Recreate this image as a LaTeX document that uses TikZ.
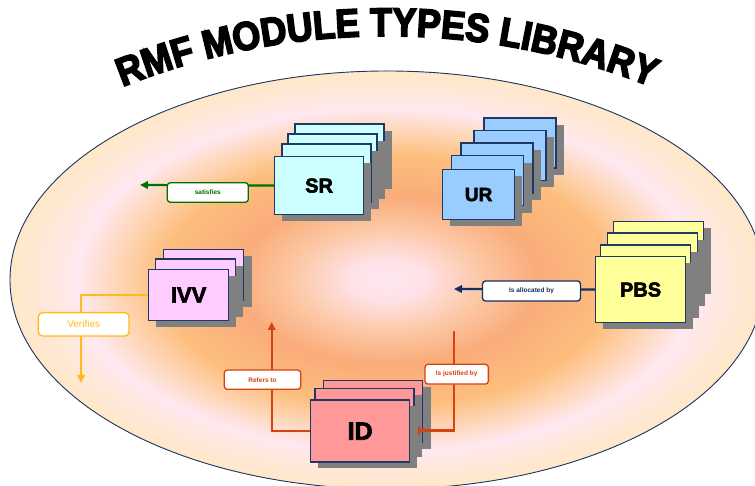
\documentclass[tikz,border=0pt]{standalone}
\usepackage{fontspec}
\usetikzlibrary{arrows.meta,decorations.text,calc}
\setmainfont{Liberation Sans}
\newfontfamily\heavy{Liberation Sans Bold}[FakeBold=3]
\newfontfamily\titlefont{Liberation Sans Bold}[FakeBold=4, FakeStretch=0.9]
\newfontfamily\labfont{Liberation Sans Bold}
\newfontfamily\regfont{Liberation Sans}

\definecolor{boxline}{RGB}{31,56,100}
\definecolor{shadowgray}{RGB}{128,128,128}
\definecolor{srfill}{RGB}{204,255,255}
\definecolor{urfill}{RGB}{153,204,255}
\definecolor{ivvfill}{RGB}{255,204,255}
\definecolor{pbsfill}{RGB}{255,255,153}
\definecolor{idfill}{RGB}{255,153,153}
\definecolor{cgreen}{RGB}{0,112,0}
\definecolor{cgold}{RGB}{255,186,30}
\definecolor{cnavy}{RGB}{18,48,96}
\definecolor{cred}{RGB}{214,66,16}
\definecolor{g0}{RGB}{255,232,242}
\definecolor{g1}{RGB}{255,225,230}
\definecolor{g2}{RGB}{252,200,165}
\definecolor{g3}{RGB}{250,172,122}
\definecolor{g4}{RGB}{253,190,125}
\definecolor{g5}{RGB}{254,215,185}
\definecolor{g6}{RGB}{255,232,240}
\definecolor{g7}{RGB}{255,232,215}
\definecolor{g8}{RGB}{255,232,200}

\pgfdeclareradialshading{bgshade}{\pgfpoint{0bp}{0bp}}{color(0bp)=(g0); color(2.5bp)=(g1); color(6.25bp)=(g2); color(10bp)=(g3); color(15bp)=(g4); color(18bp)=(g5); color(20.5bp)=(g6); color(23bp)=(g7); color(25bp)=(g8); color(50bp)=(g8)}

\tikzset{
  modbox/.style={draw=boxline, line width=1.2pt, inner sep=0pt, anchor=north west, font=\heavy},
  backbox/.style={draw=boxline, line width=1.2pt},
  conlabel/.style={draw, fill=white, rounded corners=3pt, line width=1.3pt, inner sep=0pt, font=\labfont\fontsize{6.5}{7}\selectfont},
  conline/.style={line width=2.2pt},
  arrowtipped/.style={-{Triangle[length=8pt,width=7.5pt]}},
}

% #1 name, #2 x, #3 y (top-left, image coords), #4 w, #5 h, #6 fill, #7 back offsets, #8 label
\newcommand\mstack[8]{%
  \foreach \dx/\dy in {#7} {
    \fill[shadowgray] (#2+\dx+8, #3+\dy+7) rectangle ++(#4,#5);
    \filldraw[backbox, fill=#6] (#2+\dx, #3+\dy) rectangle ++(#4,#5);
  }
  \fill[shadowgray] (#2+8, #3+7) rectangle ++(#4,#5);
  \node[modbox, fill=#6, minimum width=#4pt, minimum height=#5pt] (#1) at (#2,#3) {#8};
}

\begin{document}
\begin{tikzpicture}[x=1pt,y=1pt]
\useasboundingbox (0,0) rectangle (755,486);
\clip (0,0) rectangle (755,486);

% arched title
\path[decorate, decoration={text along path, text align=center,
  text={|\titlefont\fontsize{40}{40}\selectfont|RMF MODULE TYPES LIBRARY}}]
  (387,-262) ++(125:712pt) arc[start angle=125, end angle=55, radius=712pt];

\begin{scope}[yshift=486pt, yscale=-1]
  % background ellipse
  \fill[shading=bgshade] (387,280) ellipse [x radius=377pt, y radius=209pt];
  \draw[boxline, line width=0.9pt] (387,280) ellipse [x radius=377pt, y radius=209pt];

  % module stacks
  \mstack{SR}{274}{156}{89}{58}{srfill}{21/-32,14/-22,8/-12}{\fontsize{20}{20}\selectfont SR}
  \mstack{UR}{442}{169}{72}{50}{urfill}{42/-51,32/-38.6,19/-26,9.6/-13.3}{\fontsize{19}{19}\selectfont UR}
  \mstack{IVV}{148}{269}{80}{51}{ivvfill}{15.7/-19.7,7.3/-10}{\fontsize{22}{22}\selectfont IVV}
  \mstack{PBS}{595}{256}{90}{66}{pbsfill}{18.3/-34.7,12.4/-23,5.7/-11}{\fontsize{20}{20}\selectfont PBS}
  \mstack{ID}{310}{399.5}{99}{62}{idfill}{13.5/-19,5/-11}{\fontsize{25}{25}\selectfont ID}

  % satisfies
  \coordinate (satEnd) at (140,185);
  \draw[conline, cgreen, arrowtipped] (SR.west) -- (satEnd);
  \node[conlabel, draw=cgreen, text=cgreen, minimum width=81pt, minimum height=19.6pt] (satL) at (207.8,192.5) {satisfies};

  % Verifies
  \coordinate (verEnd) at (81,383);
  \draw[conline, cgold, arrowtipped] (IVV.west) -| (verEnd);
  \node[conlabel, draw=cgold, text=cgold, rounded corners=4pt, minimum width=90.7pt, minimum height=23.3pt, font=\regfont\fontsize{10}{11}\selectfont] (verL) at (83.7,324.3) {Verifies};

  % Is allocated by
  \coordinate (allocEnd) at (454,289);
  \draw[conline, cnavy, arrowtipped] (PBS.west) -- (allocEnd);
  \node[conlabel, draw=cnavy, text=cnavy, minimum width=98pt, minimum height=20pt] (allocL) at (531.5,291) {Is allocated by};

  % Refers to
  \coordinate (refEnd) at (271.7,322);
  \draw[conline, cred, arrowtipped] (ID.west) -| (refEnd);
  \node[conlabel, draw=cred, text=cred, minimum width=76.4pt, minimum height=19.3pt] (refL) at (262.5,379.7) {Refers to};

  % Is justified by
  \coordinate (jusTop) at (454.3,331);
  \coordinate (jusEnd) at (418,430.5);
  \draw[conline, cred, -{Bar[width=9pt]}] (jusTop) |- (jusEnd);
  \node[conlabel, draw=cred, text=cred, minimum width=63.3pt, minimum height=19.7pt] (jusL) at (456.7,374.2) {Is justified by};
\end{scope}
\end{tikzpicture}
\end{document}
